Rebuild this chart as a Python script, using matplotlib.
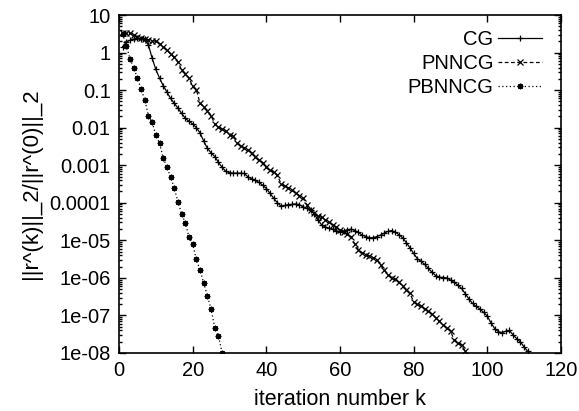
import numpy as np
import matplotlib
matplotlib.use("Agg")
import matplotlib.pyplot as plt
from matplotlib.ticker import FixedLocator, FixedFormatter, LogLocator, NullFormatter

plt.rcParams['font.family'] = ['Liberation Sans', 'DejaVu Sans']

# log10 of relative residual, per iteration k = 1..N
cg_log10 = [0.16, 0.28, 0.33, 0.36, 0.38, 0.37, 0.35, 0.20, -0.15, -0.45,
            -0.68, -0.88, -1.05, -1.22, -1.35, -1.48, -1.62, -1.75, -1.83, -1.90,
            -2.00, -2.14, -2.36, -2.55, -2.67, -2.77, -2.92, -3.06, -3.16, -3.20,
            -3.21, -3.21, -3.21, -3.22, -3.31, -3.36, -3.40, -3.46, -3.53, -3.62,
            -3.75, -3.88, -4.00, -4.09, -4.07, -4.05, -4.04, -4.03, -4.05, -4.11,
            -4.15, -4.20, -4.30, -4.45, -4.59, -4.64, -4.68, -4.71, -4.74, -4.78,
            -4.75, -4.72, -4.70, -4.74, -4.79, -4.86, -4.90, -4.93, -4.93, -4.90,
            -4.86, -4.81, -4.76, -4.74, -4.78, -4.85, -4.93, -5.06, -5.20, -5.35,
            -5.49, -5.56, -5.64, -5.75, -5.85, -5.94, -5.98, -5.99, -6.00, -6.06,
            -6.12, -6.19, -6.28, -6.42, -6.56, -6.68, -6.76, -6.83, -6.92, -7.02,
            -7.20, -7.35, -7.43, -7.46, -7.42, -7.40, -7.52, -7.62, -7.71, -7.84,
            -7.96]

pnncg_log10 = [0.51, 0.51, 0.51, 0.47, 0.42, 0.39, 0.36, 0.34, 0.32, 0.30,
               0.24, 0.16, 0.07, -0.04, -0.13, -0.25, -0.46, -0.56, -0.68, -0.90,
               -0.99, -1.35, -1.44, -1.55, -1.68, -1.90, -1.99, -2.04, -2.08, -2.19,
               -2.22, -2.40, -2.49, -2.53, -2.59, -2.68, -2.77, -2.86, -2.93, -3.06,
               -3.14, -3.18, -3.27, -3.50, -3.56, -3.60, -3.67, -3.74, -3.81, -3.88,
               -4.05, -4.20, -4.28, -4.34, -4.39, -4.45, -4.51, -4.58, -4.65, -4.72,
               -4.78, -4.82, -4.90, -5.10, -5.25, -5.33, -5.38, -5.41, -5.46, -5.52,
               -5.65, -5.79, -5.91, -5.99, -6.04, -6.12, -6.22, -6.31, -6.41, -6.64,
               -6.69, -6.74, -6.82, -6.89, -6.97, -7.06, -7.16, -7.25, -7.34, -7.41,
               -7.66, -7.73, -7.79, -7.95]

pbnncg_log10 = [0.50, 0.18, -0.17, -0.41, -0.68, -0.97, -1.26, -1.69, -1.85, -2.20,
                -2.41, -2.81, -3.05, -3.31, -3.61, -3.97, -4.29, -4.54, -4.91, -5.10,
                -5.51, -5.79, -6.14, -6.48, -6.83, -7.33, -7.55, -8.00]

labels = ["CG", "PNNCG", "PBNNCG"]
ytick_vals = [1e1, 1e0, 1e-1, 1e-2, 1e-3, 1e-4, 1e-5, 1e-6, 1e-7, 1e-8]
ytick_labels = ["10", "1", "0.1", "0.01", "0.001", "0.0001", "1e-05", "1e-06", "1e-07", "1e-08"]
xtick_vals = [0, 20, 40, 60, 80, 100, 120]

fig = plt.figure(figsize=(5.79, 4.11), dpi=100)
ax = fig.add_axes([119/579, 1 - 353/411, (561 - 119)/579, (353 - 15)/411])

series = [cg_log10, pnncg_log10, pbnncg_log10]
styles = [dict(ls='-', marker='+', ms=4.5, mew=0.9),
          dict(ls=(0, (3, 2)), marker='x', ms=4, mew=0.9),
          dict(ls=(0, (1, 2)), marker=(8, 2, 0), ms=4, mew=1.0)]
for lab, s, st in zip(labels, series, styles):
    k = np.arange(1, len(s) + 1)
    ax.plot(k, 10.0 ** np.array(s), color='black', lw=0.9, label=lab, **st)

ax.set_yscale('log')
ax.set_xlim(0, 120)
ax.set_ylim(1e-8, 10)
ax.xaxis.set_major_locator(FixedLocator(xtick_vals))
ax.yaxis.set_major_locator(FixedLocator(ytick_vals))
ax.yaxis.set_major_formatter(FixedFormatter(ytick_labels))
ax.yaxis.set_minor_locator(LogLocator(base=10, subs=np.arange(2, 10), numticks=20))
ax.yaxis.set_minor_formatter(NullFormatter())

ax.tick_params(which='both', direction='in', top=True, right=True, labelsize=14.5, width=1, pad=6)
ax.tick_params(which='major', length=5)
ax.tick_params(which='minor', length=2.5)
for sp in ax.spines.values():
    sp.set_linewidth(1.2)

ax.set_xlabel("iteration number k", fontsize=15.5, labelpad=6)
ax.set_ylabel("||r^(k)||_2/||r^(0)||_2", fontsize=16, labelpad=5)

leg = ax.legend(loc='upper right', frameon=False, markerfirst=False, fontsize=14.5,
                handlelength=2.2, handletextpad=0.2, labelspacing=0.25,
                borderaxespad=0.0, bbox_to_anchor=(0.975, 0.98))
for t in leg.get_texts():
    t.set_ha('right')

fig.savefig("out.png", dpi=100)
